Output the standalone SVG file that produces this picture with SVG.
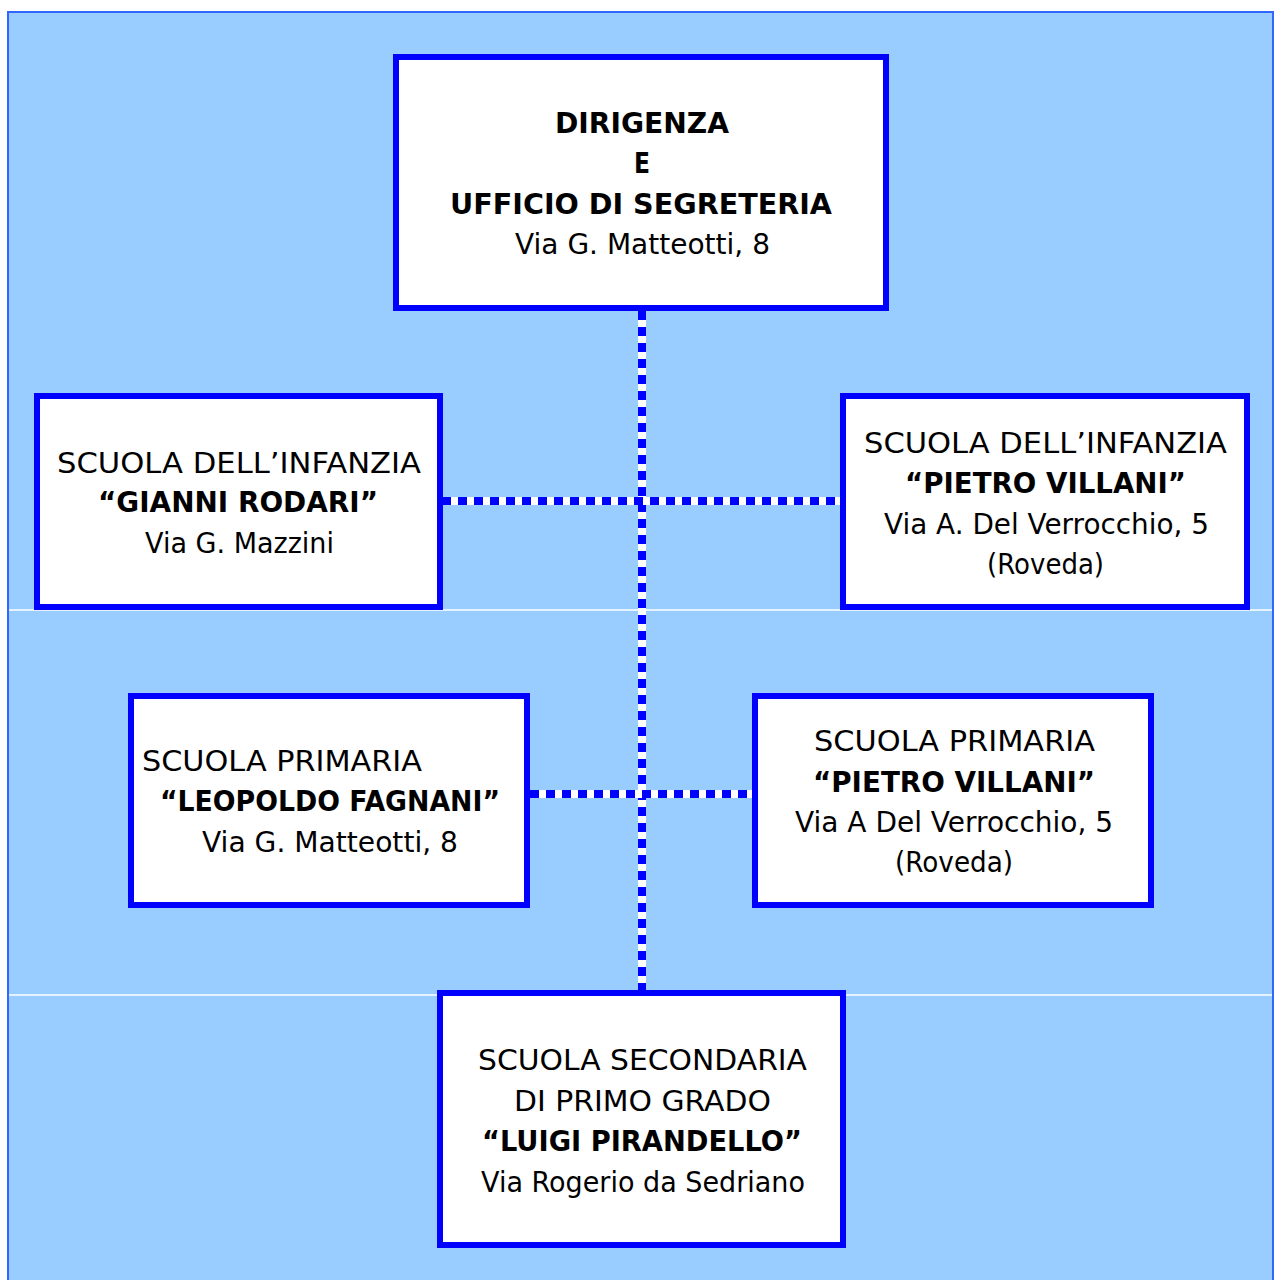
<svg xmlns="http://www.w3.org/2000/svg" width="1274" height="1280" viewBox="0 0 1274 1280">
<style>
.box{fill:#ffffff;stroke:#0000ff;stroke-width:6}
.t{font-family:"DejaVu Sans","Liberation Sans",sans-serif;font-size:27.5px;fill:#000000;text-anchor:start}
.b{font-weight:bold}
.under{stroke:#ffffff;stroke-width:8;fill:none}
.dash{stroke:#0000ff;stroke-width:8;fill:none;stroke-dasharray:9 7}
.sep{stroke:#ffffff;stroke-width:1.5}
</style>
<rect width="1274" height="1280" fill="#ffffff"/>
<rect x="8" y="12" width="1265" height="1275" fill="#99ccff" stroke="#3366ff" stroke-width="2"/>
<line class="sep" x1="9" y1="610" x2="1272" y2="610"/>
<line class="sep" x1="9" y1="995" x2="1272" y2="995"/>
<g id="connectors">
<line class="under" x1="642" y1="310" x2="642" y2="990"/>
<line class="dash" x1="642" y1="311" x2="642" y2="990"/>
<line class="under" x1="442" y1="501" x2="840" y2="501"/>
<line class="dash" x1="442" y1="501" x2="840" y2="501"/>
<line class="under" x1="530" y1="794" x2="752" y2="794"/>
<line class="dash" x1="530" y1="794" x2="752" y2="794"/>
</g>
<g id="dirigenza">
<rect class="box" x="396" y="57" width="490" height="251"/>
<text class="t b" x="555" y="133" textLength="174" lengthAdjust="spacingAndGlyphs">DIRIGENZA</text>
<text class="t b" x="634" y="173" textLength="16" lengthAdjust="spacingAndGlyphs">E</text>
<text class="t b" x="450" y="214" textLength="382" lengthAdjust="spacingAndGlyphs">UFFICIO DI SEGRETERIA</text>
<text class="t" x="515" y="254" textLength="255" lengthAdjust="spacingAndGlyphs">Via G. Matteotti, 8</text>
</g>
<g id="infanzia-rodari">
<rect class="box" x="37" y="396" width="403" height="211"/>
<text class="t" x="57" y="473" textLength="364" lengthAdjust="spacingAndGlyphs">SCUOLA DELL’INFANZIA</text>
<text class="t b" x="98" y="512" textLength="280" lengthAdjust="spacingAndGlyphs">“GIANNI RODARI”</text>
<text class="t" x="145" y="553" textLength="189" lengthAdjust="spacingAndGlyphs">Via G. Mazzini</text>
</g>
<g id="infanzia-villani">
<rect class="box" x="843" y="396" width="404" height="211"/>
<text class="t" x="864" y="453" textLength="363" lengthAdjust="spacingAndGlyphs">SCUOLA DELL’INFANZIA</text>
<text class="t b" x="905" y="493" textLength="281" lengthAdjust="spacingAndGlyphs">“PIETRO VILLANI”</text>
<text class="t" x="884" y="534" textLength="325" lengthAdjust="spacingAndGlyphs">Via A. Del Verrocchio, 5</text>
<text class="t" x="987" y="574" textLength="117" lengthAdjust="spacingAndGlyphs">(Roveda)</text>
</g>
<g id="primaria-fagnani">
<rect class="box" x="131" y="696" width="396" height="209"/>
<text class="t" x="142" y="771" textLength="280" lengthAdjust="spacingAndGlyphs">SCUOLA PRIMARIA</text>
<text class="t b" x="160" y="811" textLength="340" lengthAdjust="spacingAndGlyphs">“LEOPOLDO FAGNANI”</text>
<text class="t" x="202" y="852" textLength="256" lengthAdjust="spacingAndGlyphs">Via G. Matteotti, 8</text>
</g>
<g id="primaria-villani">
<rect class="box" x="755" y="696" width="396" height="209"/>
<text class="t" x="814" y="751" textLength="281" lengthAdjust="spacingAndGlyphs">SCUOLA PRIMARIA</text>
<text class="t b" x="813" y="792" textLength="282" lengthAdjust="spacingAndGlyphs">“PIETRO VILLANI”</text>
<text class="t" x="795" y="832" textLength="318" lengthAdjust="spacingAndGlyphs">Via A Del Verrocchio, 5</text>
<text class="t" x="895" y="872" textLength="118" lengthAdjust="spacingAndGlyphs">(Roveda)</text>
</g>
<g id="secondaria-pirandello">
<rect class="box" x="440" y="993" width="403" height="252"/>
<text class="t" x="478" y="1070" textLength="329" lengthAdjust="spacingAndGlyphs">SCUOLA SECONDARIA</text>
<text class="t" x="514" y="1111" textLength="257" lengthAdjust="spacingAndGlyphs">DI PRIMO GRADO</text>
<text class="t b" x="482" y="1151" textLength="320" lengthAdjust="spacingAndGlyphs">“LUIGI PIRANDELLO”</text>
<text class="t" x="481" y="1192" textLength="324" lengthAdjust="spacingAndGlyphs">Via Rogerio da Sedriano</text>
</g>
</svg>
